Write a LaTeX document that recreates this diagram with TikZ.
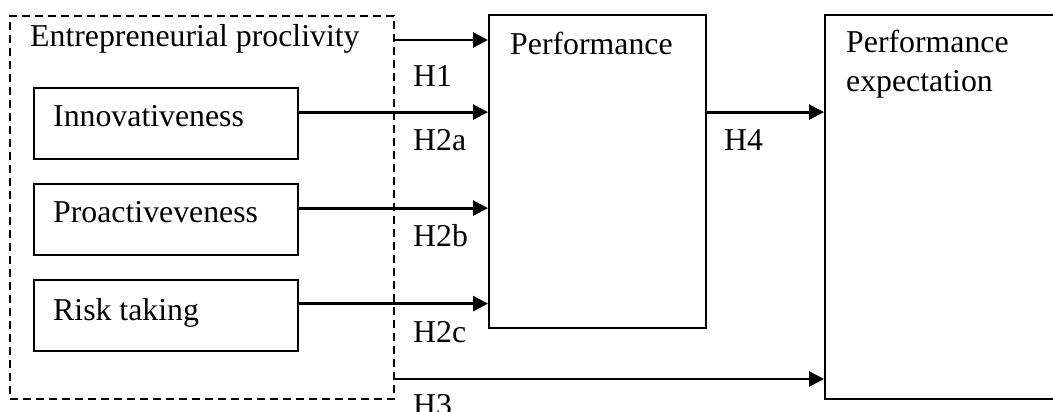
\documentclass[tikz,border=0pt]{standalone}
\usepackage{fontspec}
\setmainfont{Liberation Serif}
\usetikzlibrary{arrows.meta,calc}
\begin{document}
\begin{tikzpicture}[x=1pt,y=-1pt,
  box/.style={draw,line width=2.2pt,rectangle,inner sep=0pt,anchor=north west},
  dbox/.style={draw,line width=2pt,dash pattern=on 8pt off 5pt,rectangle,inner sep=0pt,anchor=north west},
  txt/.style={anchor=base west,inner sep=0pt,font=\fontsize{31.8}{39}\selectfont},
  arr/.style={line width=2.8pt,-{Triangle[length=15pt,width=15pt]}}]
\useasboundingbox (0,0) rectangle (1053,412);
% boxes
\node[dbox,minimum width=384pt,minimum height=383pt] (ep) at (9,15) {};
\node[box,minimum width=264pt,minimum height=71pt] (innov) at (33,87) {};
\node[box,minimum width=264pt,minimum height=71pt] (proact) at (33,183) {};
\node[box,minimum width=264pt,minimum height=71pt] (risk) at (33,279) {};
\node[box,minimum width=217pt,minimum height=313pt] (perf) at (488,14) {};
\node[box,minimum width=260pt,minimum height=384pt] (pexp) at (824,14) {};
% texts
\node[txt] (ept) at (30,47) {Entrepreneurial proclivity};
\node[txt] (innovt) at (53,127) {Innovativeness};
\node[txt] (proactt) at (53,222) {Proactiveveness};
\node[txt] (riskt) at (53,320) {Risk taking};
\node[txt] (perft) at (510,55) {Performance};
\node[txt] (pexpt1) at (846,53) {Performance};
\node[txt] (pexpt2) at (846,92) {expectation};
\node[txt] (h1) at (413,87) {H1};
\node[txt] (h2a) at (413,150) {H2a};
\node[txt] (h2b) at (413,246) {H2b};
\node[txt] (h2c) at (413,342) {H2c};
\node[txt] (h3) at (413,415) {H3};
\node[txt] (h4) at (724,150) {H4};
% connectors
\coordinate (h1s) at ([yshift=-25pt]ep.north east);
\draw[arr] (h1s) -- (h1s -| perf.west);
\coordinate (ins) at ([yshift=11.5pt]innov.east);
\draw[arr] (ins) -- (ins -| perf.west);
\coordinate (prs) at ([yshift=11.5pt]proact.east);
\draw[arr] (prs) -- (prs -| perf.west);
\coordinate (rks) at ([yshift=12pt]risk.east);
\draw[arr] (rks) -- (rks -| perf.west);
\coordinate (h4s) at (ins -| perf.east);
\draw[arr] (h4s) -- (h4s -| pexp.west);
\coordinate (h3s) at ([yshift=21pt]ep.south east);
\draw[arr] (h3s) -- (h3s -| pexp.west);
\end{tikzpicture}
\end{document}
